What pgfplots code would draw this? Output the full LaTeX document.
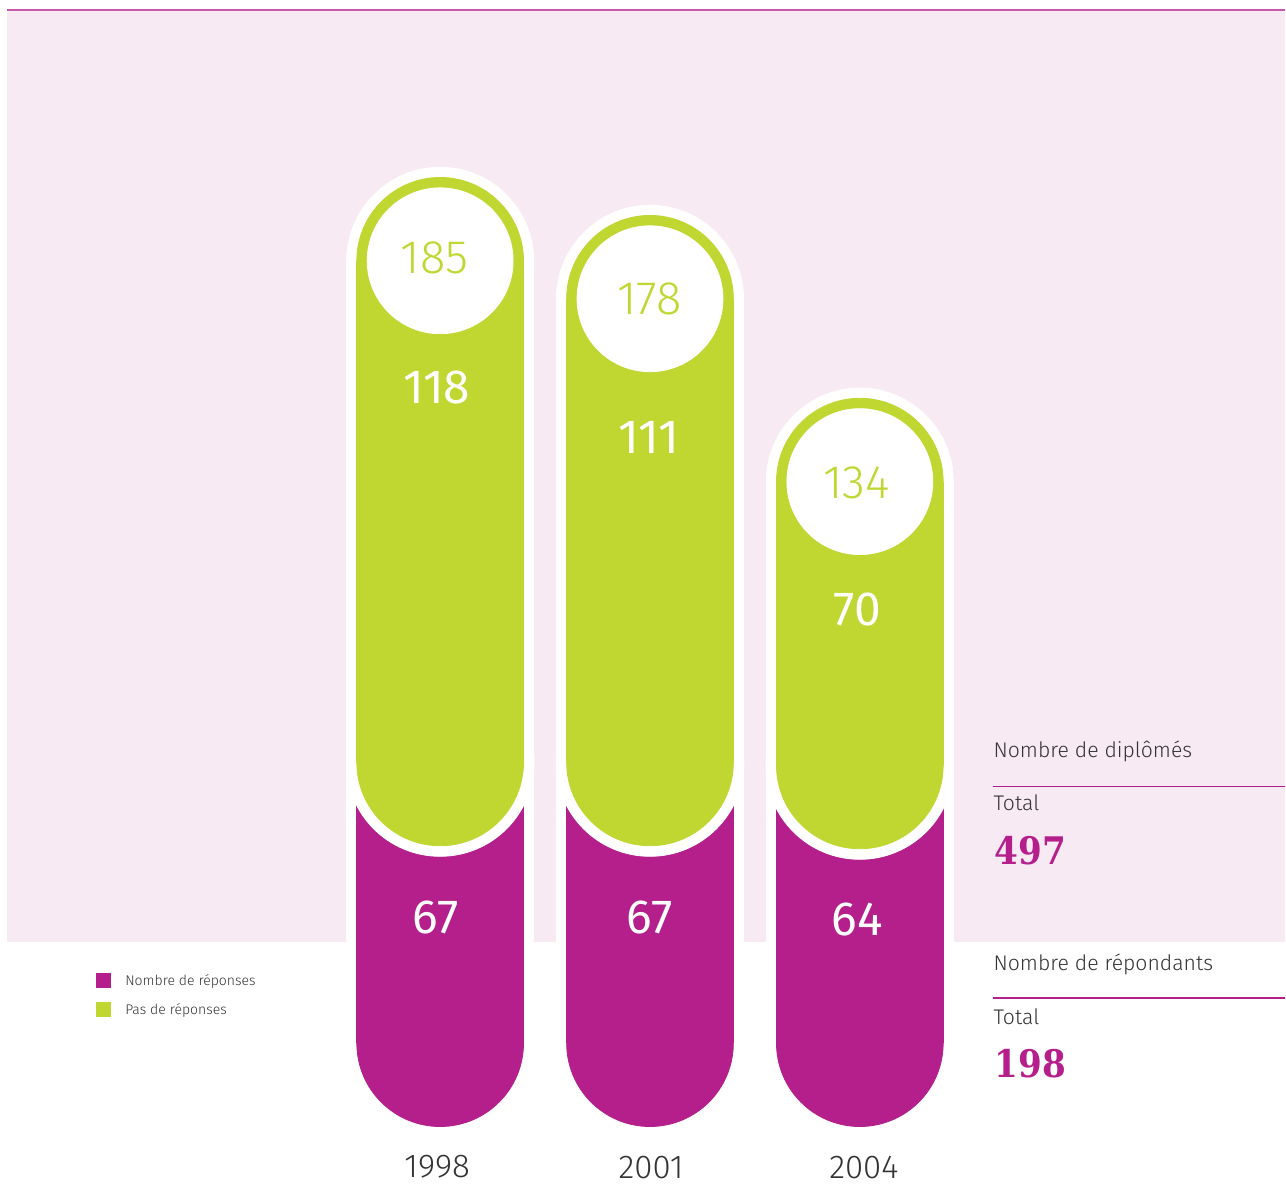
\documentclass[border=0pt]{standalone}
\usepackage{pgfplots}
\pgfplotsset{compat=1.18}
\usepackage{fontspec}
\setmainfont{Fira Sans}
\newfontfamily\fl{Fira Sans Light}
\newfontfamily\numserif{DejaVu Serif Condensed}
\definecolor{mag}{HTML}{B41F8C}
\definecolor{grn}{HTML}{BFD730}
\definecolor{bgpink}{HTML}{F7EAF3}
\definecolor{txt}{HTML}{333333}
\pgfplotsset{layers/mine/.define layer set={axis background,axis grid,axis ticks,axis lines,axis tick labels,pre main,la,lb,lc,ld,le,main,axis descriptions,axis foreground}{}}
\begin{document}
\begin{tikzpicture}
\begin{axis}[set layers=mine, mark layer=like plot, scale only axis, width=643pt, height=592.5pt,
  xmin=0, xmax=1286, ymin=0, ymax=1185, y dir=reverse,
  hide axis, clip=false]
% canvas and background
\addplot[on layer=la, fill=white, draw=none] coordinates {(0,0)(1286,0)(1286,1185)(0,1185)} -- cycle;
\addplot[on layer=la, fill=bgpink, draw=none] coordinates {(7,10)(1286,10)(1286,943)(7,943)} -- cycle;
\addplot[on layer=la, draw=mag!75!white, line width=1pt] coordinates {(7,10)(1286,10)};
% white outlines
\addplot[on layer=la, fill=white, draw=none] coordinates {(346.5,261)(534.5,261)(534.5,943)(346.5,943)} -- cycle;
\addplot[on layer=la, fill=white, draw=none] coordinates {(556.5,299)(744.5,299)(744.5,943)(556.5,943)} -- cycle;
\addplot[on layer=la, fill=white, draw=none] coordinates {(766.5,482)(954.5,482)(954.5,943)(766.5,943)} -- cycle;
\addplot[on layer=la, white, only marks, mark=*, mark size=46.8pt, mark options={fill=white}] coordinates {(440.5,261)(650.5,299)(860.5,482)};
% magenta (Nombre de réponses: 67, 67, 64)
\addplot[on layer=lb, fill=mag, draw=none] coordinates {(356.7,760)(524.3,760)(524.3,1044)(356.7,1044)} -- cycle;
\addplot[on layer=lb, fill=mag, draw=none] coordinates {(566.7,760)(734.3,760)(734.3,1044)(566.7,1044)} -- cycle;
\addplot[on layer=lb, fill=mag, draw=none] coordinates {(776.7,763)(944.3,763)(944.3,1044)(776.7,1044)} -- cycle;
\addplot[on layer=lb, mag, only marks, mark=*, mark size=41.7pt, mark options={fill=mag}] coordinates {(440.5,1044)(650.5,1044)(860.5,1044)};
% legend squares
\addplot[on layer=lb, mag, only marks, mark=square*, mark size=3.5pt, mark options={fill=mag}] coordinates {(103,981)};
\addplot[on layer=lb, grn, only marks, mark=square*, mark size=3.5pt, mark options={fill=grn}] coordinates {(103,1010)};
% white ring between green and magenta
\addplot[on layer=lc, white, only marks, mark=*, mark size=47pt, mark options={fill=white}] coordinates {(440.5,763)(650.5,763)(860.5,766)};
% green (Pas de réponses: 118, 111, 70)
\addplot[on layer=ld, fill=grn, draw=none] coordinates {(356.7,261)(524.3,261)(524.3,763)(356.7,763)} -- cycle;
\addplot[on layer=ld, fill=grn, draw=none] coordinates {(566.7,299)(734.3,299)(734.3,763)(566.7,763)} -- cycle;
\addplot[on layer=ld, fill=grn, draw=none] coordinates {(776.7,482)(944.3,482)(944.3,766)(776.7,766)} -- cycle;
\addplot[on layer=ld, grn, only marks, mark=*, mark size=41.7pt, mark options={fill=grn}] coordinates {(440.5,261)(650.5,299)(860.5,482)(440.5,763)(650.5,763)(860.5,766)};
% inner white circles (totals)
\addplot[on layer=le, white, only marks, mark=*, mark size=36.5pt, mark options={fill=white}] coordinates {(440.5,261)(650.5,299)(860.5,482)};
% right panel lines
\addplot[on layer=le, draw=mag, line width=0.75pt] coordinates {(994,787)(1286,787)};
\addplot[on layer=le, draw=mag, line width=0.75pt] coordinates {(994,999)(1286,999)};
\begin{pgfonlayer}{axis foreground}
% labels
\node[text=grn, inner sep=0, font=\fl\fontsize{23.5}{23.5}\selectfont] at (axis cs:435,258) {185};
\node[text=grn, inner sep=0, font=\fl\fontsize{23.5}{23.5}\selectfont] at (axis cs:650,299) {178};
\node[text=grn, inner sep=0, font=\fl\fontsize{23.5}{23.5}\selectfont] at (axis cs:857,483) {134};
\node[text=white, inner sep=0, font=\fontsize{24}{24}\selectfont] at (axis cs:437,388) {118};
\node[text=white, inner sep=0, font=\fontsize{24}{24}\selectfont] at (axis cs:649,438) {111};
\node[text=white, inner sep=0, font=\fontsize{24}{24}\selectfont] at (axis cs:858,610) {70};
\node[text=white, inner sep=0, font=\fontsize{24}{24}\selectfont] at (axis cs:436,918) {67};
\node[text=white, inner sep=0, font=\fontsize{24}{24}\selectfont] at (axis cs:650,918) {67};
\node[text=white, inner sep=0, font=\fontsize{24}{24}\selectfont] at (axis cs:858,920) {64};
% years
\node[text=txt, inner sep=0, font=\fl\fontsize{16.5}{16.5}\selectfont] at (axis cs:437.5,1168) {1998};
\node[text=txt, inner sep=0, font=\fl\fontsize{16.5}{16.5}\selectfont] at (axis cs:651.5,1168) {2001};
\node[text=txt, inner sep=0, font=\fl\fontsize{16.5}{16.5}\selectfont] at (axis cs:864.5,1168) {2004};
% legend text
\node[anchor=base west, text=txt, inner sep=0, font=\fl\fontsize{7}{7}\selectfont] at (axis cs:125,986) {Nombre de réponses};
\node[anchor=base west, text=txt, inner sep=0, font=\fl\fontsize{7}{7}\selectfont] at (axis cs:125,1015) {Pas de réponses};
% right panel text
\node[anchor=base west, text=txt, inner sep=0, font=\fl\fontsize{10.6}{10.6}\selectfont] at (axis cs:994,758) {Nombre de diplômés};
\node[anchor=base west, text=txt, inner sep=0, font=\fl\fontsize{10.6}{10.6}\selectfont] at (axis cs:994,811.5) {Total};
\node[anchor=base west, text=mag, inner sep=0, font=\numserif\bfseries\fontsize{19}{19}\selectfont] at (axis cs:995,865) {497};
\node[anchor=base west, text=txt, inner sep=0, font=\fl\fontsize{10.6}{10.6}\selectfont] at (axis cs:994,971.5) {Nombre de répondants};
\node[anchor=base west, text=txt, inner sep=0, font=\fl\fontsize{10.6}{10.6}\selectfont] at (axis cs:994,1025) {Total};
\node[anchor=base west, text=mag, inner sep=0, font=\numserif\bfseries\fontsize{19}{19}\selectfont] at (axis cs:995,1078) {198};
\end{pgfonlayer}
\end{axis}
\end{tikzpicture}
\end{document}
